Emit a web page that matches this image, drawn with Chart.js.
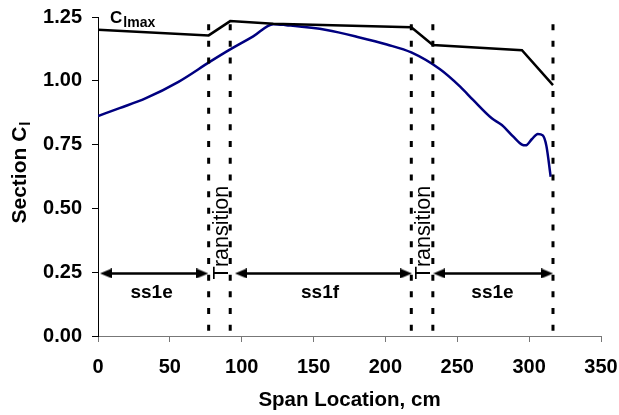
<!DOCTYPE html>
<html>
<head>
<meta charset="utf-8">
<script src="https://cdn.jsdelivr.net/npm/chart.js@4.4.1/dist/chart.umd.min.js"></script>
<style>
  html, body { margin: 0; padding: 0; background: #fff; }
  #wrap { width: 619px; height: 415px; }
</style>
</head>
<body>
<div id="wrap"><canvas id="myChart" width="619" height="415"></canvas></div>
<script>
// Section Cl along the span (blue curve)
const spanCl = [0, 15, 33, 56, 78, 92, 108, 122, 131, 159, 182, 201, 218, 238, 252, 261, 274, 281, 289, 295, 297.5, 302, 306, 309.5, 312, 315];
const sectionCl = [0.862, 0.893, 0.931, 0.996, 1.075, 1.123, 1.174, 1.222, 1.218, 1.199, 1.17, 1.142, 1.111, 1.045, 0.977, 0.925, 0.853, 0.827, 0.781, 0.75, 0.747, 0.772, 0.792, 0.786, 0.745, 0.624];

// Clmax along the span (black line)
const spanClmax = [0, 77, 92, 122, 218, 233, 295, 316.6];
const clmax = [1.2, 1.178, 1.234, 1.224, 1.21, 1.14, 1.12, 0.983];

// airfoil section boundaries (dotted verticals)
const boundaries = [77, 92, 218, 233, 316.6];
const boundaryTop = 1.222;

// section spans shown as double arrows
const arrowFrom = [1.4, 95.3, 233.3];
const arrowTo = [76.8, 218.5, 316.7];
const arrowLevel = 0.245;

// section names under the arrows
const sectionNames = ['ss1e', 'ss1f', 'ss1e'];
const sectionNameX = [37.3, 154.5, 274.5];
const sectionNameY = 0.17;

// rotated "Transition" labels
const transitionX = [85.5, 226];
const transitionY = 0.405;

const xTicks = { min: 0, max: 350, step: 50 };
const yTicks = { min: 0, max: 1.25, step: 0.25 };

const FONT = '"Liberation Sans", Arial, Helvetica, sans-serif';
Chart.defaults.font.family = FONT;
Chart.defaults.color = '#000';

// small arrowhead image, pointing right; rotated 180 for the left end
const headLen = 12, headH = 10;
function makeHead() {
  const c = document.createElement('canvas');
  c.width = headLen; c.height = headH;
  const g = c.getContext('2d');
  g.fillStyle = '#000';
  g.beginPath();
  g.moveTo(0, 0);
  g.lineTo(headLen, headH / 2);
  g.lineTo(0, headH);
  g.closePath();
  g.fill();
  return c;
}
const head = makeHead();

const pxPerUnit = 503 / 350; // rough, only used to pull arrow heads back from their tips
const headShift = (headLen / 2) / pxPerUnit;

const datasets = [];

boundaries.forEach(b => {
  datasets.push({
    data: [{ x: b, y: boundaryTop }, { x: b, y: 0 }],
    borderColor: '#000',
    borderWidth: 3,
    borderDash: [6, 10.7],
    pointRadius: 0,
    showLine: true
  });
});

arrowFrom.forEach((a, i) => {
  datasets.push({
    data: [{ x: a + headShift, y: arrowLevel }, { x: arrowTo[i] - headShift, y: arrowLevel }],
    borderColor: '#000',
    borderWidth: 2.5,
    pointStyle: head,
    pointRotation: [180, 0],
    pointRadius: 5,
    showLine: true
  });
});

datasets.push({
  label: 'Clmax',
  data: spanClmax.map((s, i) => ({ x: s, y: clmax[i] })),
  borderColor: '#000',
  borderWidth: 2.5,
  pointRadius: 0,
  showLine: true
});

datasets.push({
  label: 'Section Cl',
  data: spanCl.map((s, i) => ({ x: s, y: sectionCl[i] })),
  borderColor: '#000080',
  borderWidth: 2.5,
  pointRadius: 0,
  cubicInterpolationMode: 'monotone',
  showLine: true
});

// texts placed on the plot through the scales
const labelPlugin = {
  id: 'labels',
  afterDraw(chart) {
    const { ctx, scales: { x, y }, chartArea } = chart;
    ctx.save();
    ctx.fillStyle = '#000';

    // section names
    ctx.font = 'bold 19px ' + FONT;
    ctx.textAlign = 'center';
    ctx.textBaseline = 'middle';
    sectionNames.forEach((t, i) => {
      ctx.fillText(t, x.getPixelForValue(sectionNameX[i]), y.getPixelForValue(sectionNameY));
    });

    // Transition, rotated
    ctx.font = '21.5px ' + FONT;
    transitionX.forEach(tx => {
      ctx.save();
      ctx.translate(x.getPixelForValue(tx), y.getPixelForValue(transitionY));
      ctx.rotate(-Math.PI / 2);
      ctx.fillText('Transition', 0, 1);
      ctx.restore();
    });

    // C_lmax label
    const cx = x.getPixelForValue(8.4);
    const cy = y.getPixelForValue(1.226);
    ctx.textAlign = 'left';
    ctx.textBaseline = 'alphabetic';
    ctx.font = 'bold 17px ' + FONT;
    ctx.fillText('C', cx, cy);
    const cw = ctx.measureText('C').width;
    ctx.font = 'bold 14px ' + FONT;
    ctx.fillText('lmax', cx + cw + 1, cy + 4);

    // x axis title
    ctx.font = 'bold 20.5px ' + FONT;
    ctx.textAlign = 'center';
    ctx.textBaseline = 'middle';
    ctx.fillText('Span Location, cm', (chartArea.left + chartArea.right) / 2, 400);

    // y axis title with subscript
    ctx.save();
    ctx.translate(20, 173);
    ctx.rotate(-Math.PI / 2);
    ctx.font = 'bold 21px ' + FONT;
    const main = 'Section C';
    const mw = ctx.measureText(main).width;
    ctx.font = 'bold 15px ' + FONT;
    const sw = ctx.measureText('l').width;
    ctx.font = 'bold 21px ' + FONT;
    ctx.textAlign = 'left';
    ctx.fillText(main, -(mw + sw) / 2, 0);
    ctx.font = 'bold 15px ' + FONT;
    ctx.fillText('l', -(mw + sw) / 2 + mw + 1, 6);
    ctx.restore();

    ctx.restore();
  }
};

// drop the label overflow padding so the layout padding alone sets the plot edges
function noOverflow(s) {
  s.paddingTop = 0; s.paddingBottom = 0; s.paddingLeft = 0; s.paddingRight = 0;
}

const config = {
  type: 'scatter',
  data: { datasets },
  options: {
    responsive: false,
    animation: false,
    devicePixelRatio: 1,
    layout: { padding: { top: 17, right: 18, left: 0, bottom: 0 } },
    plugins: {
      legend: { display: false },
      tooltip: { enabled: false }
    },
    scales: {
      x: {
        type: 'linear',
        min: xTicks.min,
        max: xTicks.max,
        afterFit: s => { s.height = 79; noOverflow(s); },
        grid: { drawOnChartArea: false, drawTicks: true, tickLength: 6, color: '#777' },
        border: { display: true, color: '#777', width: 1 },
        ticks: {
          stepSize: xTicks.step,
          padding: 13,
          font: { size: 20, weight: 'bold' },
          color: '#000'
        }
      },
      y: {
        type: 'linear',
        min: yTicks.min,
        max: yTicks.max,
        afterFit: s => { s.width = 98; noOverflow(s); },
        grid: { drawOnChartArea: false, drawTicks: true, tickLength: 6, color: '#000' },
        border: { display: true, color: '#000', width: 1 },
        ticks: {
          stepSize: yTicks.step,
          padding: 10,
          font: { size: 20, weight: 'bold' },
          color: '#000',
          callback: v => v.toFixed(2)
        }
      }
    }
  },
  plugins: [labelPlugin]
};

new Chart(document.getElementById('myChart'), config);
</script>
</body>
</html>
